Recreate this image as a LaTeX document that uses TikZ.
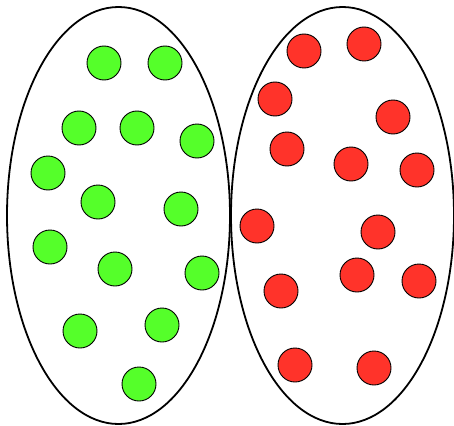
\documentclass[tikz,border=0pt]{standalone}
\usetikzlibrary{shapes.geometric}
\definecolor{dotgreen}{RGB}{85,255,42}
\definecolor{dotred}{RGB}{255,51,42}
\begin{document}
\begin{tikzpicture}[x=1pt,y=-1pt,
  setoval/.style={ellipse,draw=black,line width=1.8pt,inner sep=0pt,minimum width=223pt,minimum height=417pt},
  gdot/.style={circle,draw=black,line width=0.9pt,fill=dotgreen,inner sep=0pt,minimum size=34pt},
  rdot/.style={circle,draw=black,line width=0.9pt,fill=dotred,inner sep=0pt,minimum size=34pt}]
\useasboundingbox (0,0) rectangle (454,425);
\node[setoval] (L) at (118.5,215.5) {};
\node[setoval] (R) at (342.5,215.5) {};
% green
\node[gdot] (g1) at (104,63) {};
\node[gdot] (g2) at (165,63) {};
\node[gdot] (g3) at (79,128) {};
\node[gdot] (g4) at (137,128) {};
\node[gdot] (g5) at (197,141) {};
\node[gdot] (g6) at (48,173) {};
\node[gdot] (g7) at (98,202) {};
\node[gdot] (g8) at (181,209) {};
\node[gdot] (g9) at (50,247) {};
\node[gdot] (g10) at (115,269) {};
\node[gdot] (g11) at (202,273) {};
\node[gdot] (g12) at (80,331) {};
\node[gdot] (g13) at (162,325) {};
\node[gdot] (g14) at (139,384) {};
% red
\node[rdot] (r1) at (304,51) {};
\node[rdot] (r2) at (364,44) {};
\node[rdot] (r3) at (275,99) {};
\node[rdot] (r4) at (393,117) {};
\node[rdot] (r5) at (287,149) {};
\node[rdot] (r6) at (351,164) {};
\node[rdot] (r7) at (417,170) {};
\node[rdot] (r8) at (257,226) {};
\node[rdot] (r9) at (378,232) {};
\node[rdot] (r10) at (281,291) {};
\node[rdot] (r11) at (357,275) {};
\node[rdot] (r12) at (419,281) {};
\node[rdot] (r13) at (295,365) {};
\node[rdot] (r14) at (374,368) {};
\end{tikzpicture}
\end{document}
